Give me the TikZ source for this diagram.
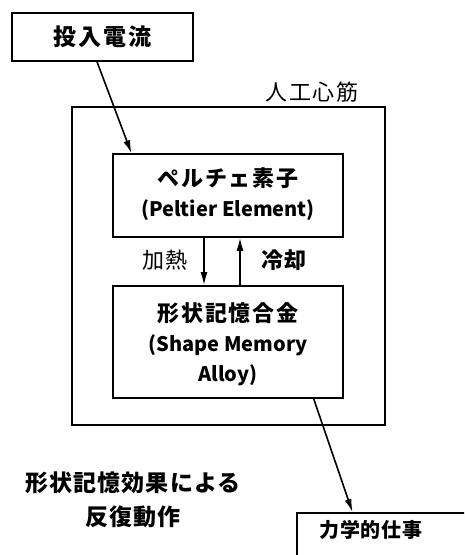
\documentclass[tikz,border=0pt]{standalone}
\usepackage{fontspec}
\setmainfont{Noto Sans CJK JP}
\usetikzlibrary{arrows.meta,calc}
\newcommand{\jpbig}{\fontsize{22}{30}\selectfont\addfontfeature{LetterSpace=8}}
\newcommand{\enbig}{\fontsize{20}{30}\selectfont\bfseries}
\tikzset{
  box/.style={draw=black, line width=1.6pt, inner sep=0pt},
  arr/.style={draw=black, line width=1.6pt, -{Latex[length=13pt,width=7pt]}},
  lbl/.style={inner sep=0pt, align=center}
}
\begin{document}
\begin{tikzpicture}[x=1pt,y=-1pt]
\clip (0,0) rectangle (464,555);
\fill[white] (0,0) rectangle (464,555);
% outer box
\node[box, minimum width=313, minimum height=318] (muscle) at (228.5,266) {};
\node[lbl, font=\jpbig] (mlbl) at (312,92) {人工心筋};
% input
\node[box, minimum width=181, minimum height=48, font=\fontsize{23}{30}\selectfont\addfontfeature{LetterSpace=8}\bfseries] (in) at (102.5,37) {投入電流};
% peltier
\node[box, minimum width=230, minimum height=83] (pel) at (228,195.5) {};
\node[lbl, font=\enbig] (pellbl) at (228,194) {{\jpbig\bfseries ペルチェ素子}\\(Peltier Element)};
% SMA
\node[box, minimum width=230, minimum height=112] (sma) at (228,342) {};
\node[lbl, font=\enbig] (smalbl) at (228,344) {{\jpbig\bfseries 形状記憶合金}\\(Shape Memory\\Alloy)};
% heat/cool arrows
\coordinate (hx) at (204,0);
\coordinate (cx) at (240,0);
\draw[arr] (hx |- pel.south) -- (hx |- sma.north);
\draw[arr] (cx |- sma.north) -- (cx |- pel.south);
\node[lbl, font=\jpbig] (heat) at (165,260) {加熱};
\node[lbl, font=\jpbig\bfseries] (cool) at (284,260) {冷却};
% input arrow
\draw[arr] ($(in.south west)!0.47!(in.south east)$) -- ($(pel.north west)!0.083!(pel.north east)$);
% work
\node[box, anchor=north west, minimum width=200, minimum height=80] (work) at (296,512) {};
\node[lbl, font=\fontsize{20}{26}\selectfont\addfontfeature{LetterSpace=3}\bfseries] (worklbl) at (371,530) {力学的仕事};
\draw[arr] ($(sma.south west)!0.87!(sma.south east)$) -- ($(work.north west)!0.28!(work.north east)$);
% effect text
\node[lbl, font=\fontsize{23}{34}\selectfont\addfontfeature{LetterSpace=5}\bfseries] (eff) at (133,500) {形状記憶効果による\\反復動作};
\end{tikzpicture}
\end{document}
